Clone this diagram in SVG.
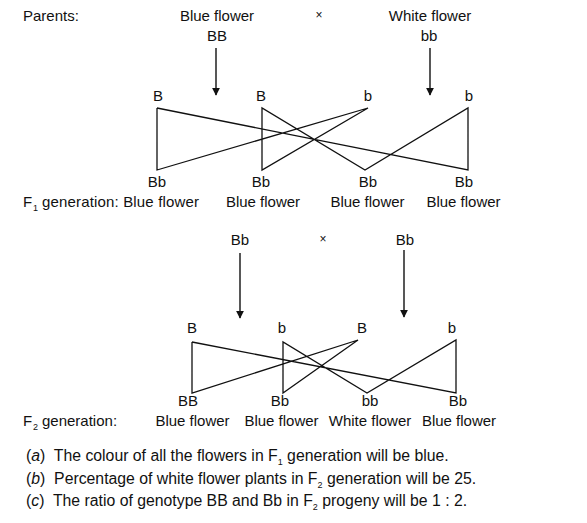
<svg xmlns="http://www.w3.org/2000/svg" width="587" height="523" viewBox="0 0 587 523">
<defs>
<style>
text{font-family:"Liberation Sans",Arial,sans-serif;font-size:15px;fill:#111}
.m{text-anchor:middle}
.x{font-size:12px}
.s{font-size:9px}
.i{font-style:italic}
.q{font-size:15.8px}
.ln{stroke:#111;stroke-width:1.3;fill:none}
.ar{stroke:#111;stroke-width:1.4;fill:none}
</style>
<marker id="ah" viewBox="0 0 10 10" refX="9" refY="5" markerWidth="8" markerHeight="8" markerUnits="userSpaceOnUse" orient="auto">
<path d="M0,0 L10,5 L0,10 Z" fill="#111"/>
</marker>
</defs>
<rect width="587" height="523" fill="#fff"/>

<g id="parents">
<text x="23" y="21">Parents:</text>
<g id="parent1"><text class="m" x="217" y="21">Blue flower</text><text class="m" x="217" y="41">BB</text></g>
<text class="m x" x="319" y="19">×</text>
<g id="parent2"><text class="m" x="430" y="21">White flower</text><text class="m" x="429" y="41">bb</text></g>
</g>

<g id="gametes1">
<text class="m" x="158" y="101">B</text>
<text class="m" x="261" y="101">B</text>
<text class="m" x="368" y="101">b</text>
<text class="m" x="469" y="101">b</text>
</g>

<g id="f1">
<text class="m" x="157" y="187">Bb</text>
<text class="m" x="261" y="187">Bb</text>
<text class="m" x="368" y="187">Bb</text>
<text class="m" x="464" y="187">Bb</text>
<text x="23" y="207">F</text><text class="s" x="33" y="211">1</text>
<text x="42" y="207" textLength="157" lengthAdjust="spacing">generation: Blue flower</text>
<text class="m" x="263" y="207">Blue flower</text>
<text class="m" x="367.5" y="207">Blue flower</text>
<text class="m" x="463.5" y="207">Blue flower</text>
</g>

<g id="f1parents">
<text class="m" x="240" y="245">Bb</text>
<text class="m x" x="323" y="243">×</text>
<text class="m" x="405" y="245">Bb</text>
</g>

<g id="gametes2">
<text class="m" x="192" y="333">B</text>
<text class="m" x="282" y="333">b</text>
<text class="m" x="362" y="333">B</text>
<text class="m" x="452" y="333">b</text>
</g>

<g id="f2">
<text class="m" x="188" y="406">BB</text>
<text class="m" x="280" y="406">Bb</text>
<text class="m" x="370" y="406">bb</text>
<text class="m" x="458" y="406">Bb</text>
<text x="23" y="426">F</text><text class="s" x="33" y="430">2</text>
<text x="42" y="426">generation:</text>
<text class="m" x="192.5" y="426">Blue flower</text>
<text class="m" x="281.5" y="426">Blue flower</text>
<text class="m" x="370" y="426">White flower</text>
<text class="m" x="459" y="426">Blue flower</text>
</g>

<g id="connectors">
<line class="ar" x1="216" y1="48" x2="216" y2="95" marker-end="url(#ah)"/>
<line class="ar" x1="430" y1="48" x2="430" y2="95" marker-end="url(#ah)"/>
<path class="ln" d="M157,108 L157,170 L368,108 L262,170 L262,108 L365,170 L468,108 L468,170 L157,108"/>
<line class="ar" x1="240" y1="253" x2="240" y2="318" marker-end="url(#ah)"/>
<line class="ar" x1="404" y1="250" x2="404" y2="317" marker-end="url(#ah)"/>
<path class="ln" d="M192,342 L192,393 L358,340 L283,393 L283,342 L367,393 L456,340 L456,393 L192,342"/>
</g>

<g id="answers">
<text class="q" x="26" y="461">(<tspan class="i">a</tspan>)&#160; The colour of all the flowers in F<tspan class="s" dy="4">1</tspan><tspan dy="-4"> generation will be blue.</tspan></text>
<text class="q" x="26" y="484">(<tspan class="i">b</tspan>)&#160; Percentage of white flower plants in F<tspan class="s" dy="4">2</tspan><tspan dy="-4"> generation will be 25.</tspan></text>
<text class="q" x="26" y="506">(<tspan class="i">c</tspan>)&#160; The ratio of genotype BB and Bb in F<tspan class="s" dy="4">2</tspan><tspan dy="-4"> progeny will be 1 : 2.</tspan></text>
</g>
</svg>
